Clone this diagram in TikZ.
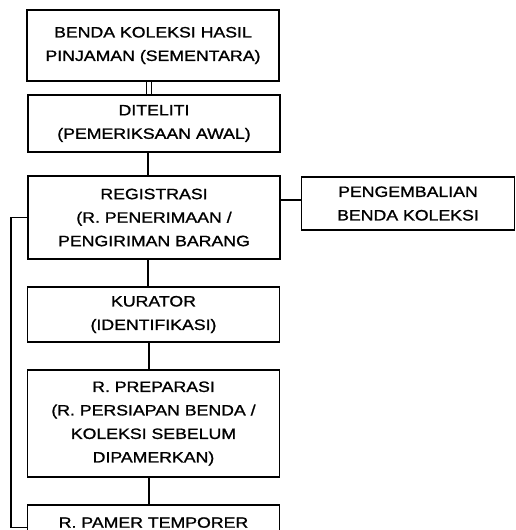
\documentclass[tikz,border=0pt]{standalone}
\usepackage{fontspec}
\setmainfont[FakeStretch=1.18,FakeBold=1.2]{Liberation Sans}
\begin{document}
\begin{tikzpicture}[x=1pt,y=-1pt,
  box/.style={draw,line width=1.8pt,minimum width=252pt,align=center,inner sep=0pt,
    font=\fontsize{15}{23.5}\selectfont},
  conn/.style={line width=1.8pt}]
\useasboundingbox (0,0) rectangle (516,530);
\clip (0,0) rectangle (516,530);
\node[box,minimum height=71pt] (b1) at (153,45.5) {BENDA KOLEKSI HASIL\\PINJAMAN (SEMENTARA)};
\node[box,minimum height=57pt] (b2) at (154,123.5) {DITELITI\\(PEMERIKSAAN AWAL)};
\node[box,minimum height=83pt] (b3) at (154,217.5) {REGISTRASI\\(R. PENERIMAAN /\\PENGIRIMAN BARANG};
\node[box,minimum height=53pt,minimum width=213pt] (b4) at (408,203.5) {PENGEMBALIAN\\BENDA KOLEKSI};
\node[box,minimum height=55pt] (b5) at (153.5,314.5) {KURATOR\\(IDENTIFIKASI)};
\node[box,minimum height=107pt] (b6) at (153.5,423.5) {R. PREPARASI\\(R. PERSIAPAN BENDA /\\KOLEKSI SEBELUM\\DIPAMERKAN)};
\node[box,minimum height=45pt,text depth=0pt] (b7) at (153.5,527.5) {\raisebox{10pt}{R. PAMER TEMPORER}};
\draw[line width=1.3pt] ([xshift=-6.5pt]b1.south) -- ([xshift=-7.5pt]b2.north);
\draw[line width=1.3pt] ([xshift=-1.5pt]b1.south) -- ([xshift=-2.5pt]b2.north);
\draw[conn] ([xshift=-6pt]b2.south) -- ([xshift=-6pt]b3.north);
\draw[conn] ([xshift=-6pt]b3.south) -- ([xshift=-5.5pt]b5.north);
\draw[conn] ([xshift=-4.5pt]b5.south) -- ([xshift=-4.5pt]b6.north);
\draw[conn] ([xshift=-4.5pt]b6.south) -- ([xshift=-4.5pt]b7.north);
\draw[conn] ([yshift=3.5pt]b4.west) -- ([yshift=3.5pt]b4.west -| b3.east);
\draw[conn] (b3.west) -- ++(-16,0) |- (b7.west);
\end{tikzpicture}
\end{document}
